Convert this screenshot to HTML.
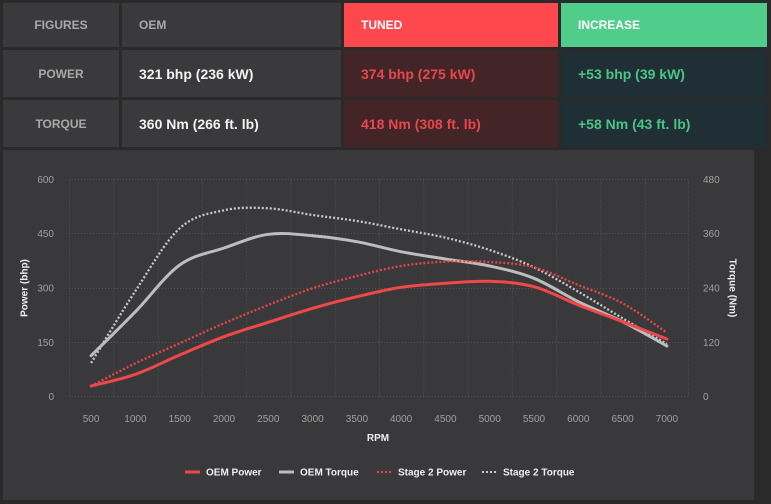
<!DOCTYPE html>
<html><head><meta charset="utf-8"><style>
html,body{margin:0;padding:0;background:#2a2a2b;width:771px;height:504px;overflow:hidden;font-family:"Liberation Sans",sans-serif;}
.c{position:absolute;box-sizing:border-box;display:flex;align-items:center;font-weight:bold;}
.g{background:#3a3a3c;}
.h{font-size:12px;color:#a9a9a9;}
.v{font-size:14px;color:#f2f2f2;}
.ctr{justify-content:center;}
.pad{padding-left:17px;}
</style></head><body>
<div class="c g h ctr" style="left:3px;top:3px;width:116px;height:44px;">FIGURES</div>
<div class="c g h pad" style="left:122px;top:3px;width:219px;height:44px;">OEM</div>
<div class="c h pad" style="left:344px;top:3px;width:214px;height:44px;background:#ff484d;color:#fff;">TUNED</div>
<div class="c h pad" style="left:561px;top:3px;width:206px;height:44px;background:#50cd8a;color:#fff;">INCREASE</div>

<div class="c g h ctr" style="left:3px;top:50px;width:116px;height:47px;">POWER</div>
<div class="c g v pad" style="left:122px;top:50px;width:219px;height:47px;">321 bhp (236 kW)</div>
<div class="c v pad" style="left:344px;top:50px;width:214px;height:47px;background:#432527;color:#e8474b;">374 bhp (275 kW)</div>
<div class="c v pad" style="left:561px;top:50px;width:206px;height:47px;background:#1f2f35;color:#4cc486;">+53 bhp (39 kW)</div>

<div class="c g h ctr" style="left:3px;top:100px;width:116px;height:47px;">TORQUE</div>
<div class="c g v pad" style="left:122px;top:100px;width:219px;height:47px;">360 Nm (266 ft. lb)</div>
<div class="c v pad" style="left:344px;top:100px;width:214px;height:47px;background:#432527;color:#e8474b;">418 Nm (308 ft. lb)</div>
<div class="c v pad" style="left:561px;top:100px;width:206px;height:47px;background:#1f2f35;color:#4cc486;">+58 Nm (43 ft. lb)</div>

<svg id="ch" style="position:absolute;left:0;top:0" width="771" height="504" viewBox="0 0 771 504" xmlns="http://www.w3.org/2000/svg" font-family="Liberation Sans, sans-serif">
<rect x="3" y="150" width="751" height="350" fill="#39393b"/>
<g stroke="#545456" stroke-width="1" stroke-dasharray="1,2" fill="none">
<line x1="69" y1="179.5" x2="689" y2="179.5"/>
<line x1="69" y1="233.5" x2="689" y2="233.5"/>
<line x1="69" y1="288.5" x2="689" y2="288.5"/>
<line x1="69" y1="342.5" x2="689" y2="342.5"/>
<line x1="69" y1="396.5" x2="689" y2="396.5"/>
<line x1="69.5" y1="179.5" x2="69.5" y2="396.5"/>
<line x1="113.8" y1="179.5" x2="113.8" y2="396.5"/>
<line x1="158.1" y1="179.5" x2="158.1" y2="396.5"/>
<line x1="202.4" y1="179.5" x2="202.4" y2="396.5"/>
<line x1="246.7" y1="179.5" x2="246.7" y2="396.5"/>
<line x1="291" y1="179.5" x2="291" y2="396.5"/>
<line x1="335.3" y1="179.5" x2="335.3" y2="396.5"/>
<line x1="379.5" y1="179.5" x2="379.5" y2="396.5"/>
<line x1="423.8" y1="179.5" x2="423.8" y2="396.5"/>
<line x1="468.1" y1="179.5" x2="468.1" y2="396.5"/>
<line x1="512.4" y1="179.5" x2="512.4" y2="396.5"/>
<line x1="556.7" y1="179.5" x2="556.7" y2="396.5"/>
<line x1="601" y1="179.5" x2="601" y2="396.5"/>
<line x1="645.3" y1="179.5" x2="645.3" y2="396.5"/>
<line x1="688.5" y1="179.5" x2="688.5" y2="396.5"/>
</g>
<g font-size="10" fill="#a0a0a0" text-anchor="end">
<text x="54" y="183">600</text>
<text x="54" y="237">450</text>
<text x="54" y="291.5">300</text>
<text x="54" y="346">150</text>
<text x="54" y="400">0</text>
</g>
<g font-size="10" fill="#a0a0a0" text-anchor="start">
<text x="703" y="183">480</text>
<text x="703" y="237">360</text>
<text x="703" y="291.5">240</text>
<text x="703" y="346">120</text>
<text x="703" y="400">0</text>
</g>
<g font-size="10" fill="#a0a0a0" text-anchor="middle">
<text x="91.1" y="422">500</text>
<text x="135.4" y="422">1000</text>
<text x="179.7" y="422">1500</text>
<text x="224" y="422">2000</text>
<text x="268.3" y="422">2500</text>
<text x="312.6" y="422">3000</text>
<text x="356.9" y="422">3500</text>
<text x="401.1" y="422">4000</text>
<text x="445.4" y="422">4500</text>
<text x="489.7" y="422">5000</text>
<text x="534" y="422">5500</text>
<text x="578.3" y="422">6000</text>
<text x="622.6" y="422">6500</text>
<text x="666.9" y="422">7000</text>
</g>
<text x="378" y="441" font-size="10" font-weight="bold" fill="#eeeeee" text-anchor="middle">RPM</text>
<text transform="translate(27.5,288) rotate(-90)" font-size="10" font-weight="bold" fill="#eeeeee" text-anchor="middle">Power (bhp)</text>
<text transform="translate(729.5,288) rotate(90)" font-size="10" font-weight="bold" fill="#eeeeee" text-anchor="middle">Torque (Nm)</text>

<g fill="none" stroke-linejoin="round">
<polyline class="sm" stroke="#c9c9c9" stroke-width="2.3" stroke-dasharray="2,2" points="91.1,363 135.4,291 179.7,228.3 224,210.3 268.3,208.3 312.6,215 356.9,221 401.1,229.3 445.4,237.7 489.7,250 534,267.3 578.3,291.7 622.6,318.3 666.9,344"/>
<polyline class="sm" stroke="#bdbdbd" stroke-width="3" stroke-linecap="round" points="91.1,355.7 135.4,311.7 179.7,265 224,248 268.3,234.3 312.6,235.7 356.9,241.7 401.1,251.7 445.4,259 489.7,266 534,278.3 578.3,301.7 622.6,321.7 666.9,346"/>
<polyline class="sm" stroke="#ea4446" stroke-width="2.3" stroke-dasharray="2,2" points="91.1,386 135.4,363.3 179.7,343.3 224,323.3 268.3,305 312.6,288.3 356.9,276 401.1,266 445.4,261.7 489.7,262 534,267.3 578.3,285 622.6,303.3 666.9,332.7"/>
<polyline class="sm" stroke="#f04749" stroke-width="3" stroke-linecap="round" points="91.1,386 135.4,374.3 179.7,355 224,336.7 268.3,322.3 312.6,308.3 356.9,296.7 401.1,287.3 445.4,283.3 489.7,281.3 534,286.7 578.3,305 622.6,321.7 666.9,339"/>
</g>

<g font-size="10" font-weight="bold" fill="#eeeeee">
<line x1="185" y1="472" x2="200" y2="472" stroke="#f04749" stroke-width="3"/>
<text x="206" y="475.5">OEM Power</text>
<line x1="279" y1="472" x2="294" y2="472" stroke="#bdbdbd" stroke-width="3"/>
<text x="300" y="475.5">OEM Torque</text>
<line x1="377" y1="472" x2="392" y2="472" stroke="#ea4446" stroke-width="2" stroke-dasharray="2,2"/>
<text x="398" y="475.5">Stage 2 Power</text>
<line x1="482" y1="472" x2="497" y2="472" stroke="#c9c9c9" stroke-width="2" stroke-dasharray="2,2"/>
<text x="503" y="475.5">Stage 2 Torque</text>
</g>
</svg>
<script>
(function(){
  var ns="http://www.w3.org/2000/svg";
  var pls=document.querySelectorAll("polyline.sm");
  for(var k=0;k<pls.length;k++){
    var pl=pls[k];
    var pts=pl.getAttribute("points").trim().split(/\s+/).map(function(s){var a=s.split(",");return [parseFloat(a[0]),parseFloat(a[1])];});
    var t=0.8/6*1.25;
    var d="M"+pts[0][0]+","+pts[0][1];
    for(var i=0;i<pts.length-1;i++){
      var p0=pts[i>0?i-1:i],p1=pts[i],p2=pts[i+1],p3=pts[i+2<pts.length?i+2:i+1];
      var c1x=p1[0]+(p2[0]-p0[0])*t,c1y=p1[1]+(p2[1]-p0[1])*t;
      var c2x=p2[0]-(p3[0]-p1[0])*t,c2y=p2[1]-(p3[1]-p1[1])*t;
      d+=" C"+c1x.toFixed(2)+","+c1y.toFixed(2)+" "+c2x.toFixed(2)+","+c2y.toFixed(2)+" "+p2[0]+","+p2[1];
    }
    var path=document.createElementNS(ns,"path");
    for(var j=0;j<pl.attributes.length;j++){var at=pl.attributes[j];if(at.name!=="points"&&at.name!=="class")path.setAttribute(at.name,at.value);}
    path.setAttribute("d",d);
    path.setAttribute("fill","none");
    pl.parentNode.replaceChild(path,pl);
  }
})();
</script>
</body></html>
